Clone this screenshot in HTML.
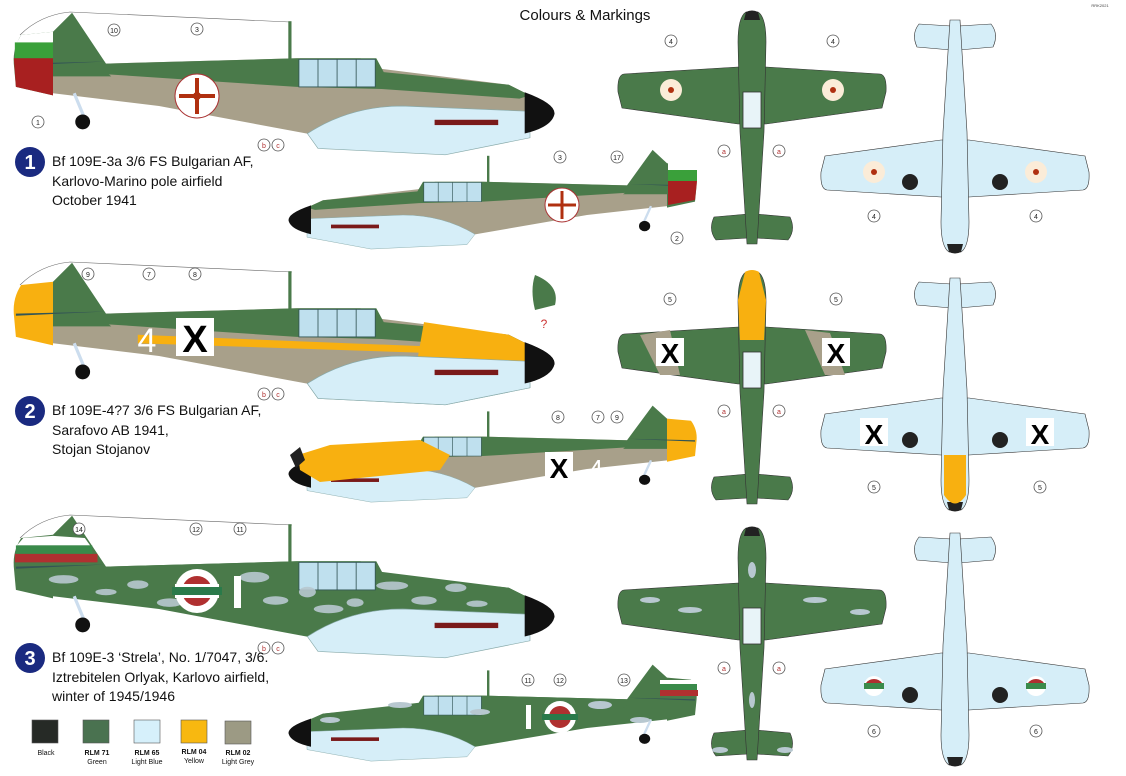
<!DOCTYPE html>
<html><head><meta charset="utf-8"><style>
html,body{margin:0;padding:0;background:#fff;}
svg{display:block;font-family:"Liberation Sans",sans-serif;}
.t{font-size:14px;fill:#111;}
.sw{font-size:7px;fill:#111;text-anchor:middle;}
.c{fill:#fff;stroke:#555;stroke-width:0.8;}
.cn{font-size:7px;text-anchor:middle;fill:#222;}
.cr{font-size:7px;text-anchor:middle;fill:#b03030;}
</style></head><body>
<svg width="1126" height="776" viewBox="0 0 1126 776" xmlns="http://www.w3.org/2000/svg">
<defs>
<g id="side">
 <path d="M100,60 L280,55 L340,55 L360,65 L480,80 L500,90 L505,110 L495,120 L420,128 L300,128 L150,100 L50,88 L50,30 Z" fill="var(--low)"/>
 <path d="M50,30 L68,12 L100,60 L280,55 L355,55 L362,68 L480,80 L500,90 L490,93 L360,84 L280,82 L100,70 L50,64 Z" fill="var(--top)"/>
 <path d="M50,30 L20,33 Q12,45 13,60 L15,82 L50,90 Z" fill="var(--rud)"/>
 <path d="M50,62 L100,68 L105,72 L50,72 Z" fill="var(--top)"/>
 <rect x="282" y="56" width="72" height="26" fill="#bfe0ee" stroke="#355" stroke-width="0.8"/>
 <line x1="300" y1="56" x2="300" y2="82" stroke="#355" stroke-width="0.8"/>
 <line x1="318" y1="56" x2="318" y2="82" stroke="#355" stroke-width="0.8"/>
 <line x1="336" y1="56" x2="336" y2="82" stroke="#355" stroke-width="0.8"/>
 <rect x="272" y="20" width="3" height="36" fill="#4a7a4a"/>
 <path d="M290,126 Q330,100 380,100 L500,105 L500,130 L420,146 L300,140 Z" fill="#d6eef8" stroke="#8aa" stroke-width="0.6"/>
 <path d="M495,87 Q525,98 523,108 Q520,120 495,126 Z" fill="#111"/>
 <rect x="410" y="113" width="60" height="5" fill="#7a1a1a"/>
 <line x1="70" y1="88" x2="80" y2="112" stroke="#cde" stroke-width="3"/>
 <circle cx="78" cy="115" r="7" fill="#111"/>
 <path d="M15,60 L100,58 L15,62Z" fill="#355"/>
</g>
<g id="topv">
 <path d="M-14,55 L-128,62 Q-135,63 -134,80 L-130,96 L-14,112 L14,112 L130,96 L134,80 Q135,63 128,62 L14,55 Z" fill="var(--wing)" stroke="#333" stroke-width="0.6"/>
 <path d="M-4,202 L-38,205 Q-44,218 -36,228 L-4,226 Z M4,202 L38,205 Q44,218 36,228 L4,226 Z" fill="var(--wing)" stroke="#333" stroke-width="0.6"/>
 <path d="M-6,0 Q-14,5 -14,30 L-12,120 L-5,232 L5,232 L12,120 L14,30 Q14,5 6,0 Z" fill="var(--fus)" stroke="#333" stroke-width="0.6"/>
 <path d="M-6,0 Q0,-3 6,0 L8,8 L-8,8Z" fill="#222"/>
</g>
</defs>

<text x="585" y="20" font-size="15" text-anchor="middle" fill="#111">Colours &amp; Markings</text>
<text x="1100" y="7" font-size="4" text-anchor="middle" fill="#444">RRK2021</text>

<!-- Row 1 -->
<path d="M20,35 Q40,15 70,12 L290,22" fill="none" stroke="#666" stroke-width="0.6"/>
<g transform="scale(1.06)" style="--top:#4a7a4a;--low:#a8a08a;--rud:#4a7a4a">
 <use href="#side"/>
 <path d="M13,45 L20,33 L50,30 L50,40 Z" fill="#fff"/><rect x="14" y="40" width="36" height="15" fill="#3aa03a"/><path d="M13,55 L50,55 L50,90 L15,82Z" fill="#a82020"/>
</g>
<circle cx="197" cy="96" r="22" fill="#fff" stroke="#a33" stroke-width="1"/><circle cx="197" cy="96" r="4" fill="#b03010"/>
<path d="M197,78 V114 M179,96 H215" stroke="#b03010" stroke-width="4"/>
<circle class="c" cx="197" cy="29" r="6"/><text class="cn" x="197" y="32">3</text>
<circle class="c" cx="114" cy="30" r="6"/><text class="cn" x="114" y="33">10</text>
<circle class="c" cx="38" cy="122" r="6"/><text class="cn" x="38" y="125">1</text>
<circle class="c" cx="264" cy="145" r="6" stroke="#b55"/><text class="cr" x="264" y="148">b</text>
<circle class="c" cx="278" cy="145" r="6" stroke="#b55"/><text class="cr" x="278" y="148">c</text>

<g transform="translate(707,141) scale(-0.8,0.74)" style="--top:#4a7a4a;--low:#a8a08a;--rud:#4a7a4a"><use href="#side"/></g>
<path d="M692,158 L697,166 L696,180 L668,180 L668,160Z" fill="#fff"/><rect x="668" y="170" width="29" height="11" fill="#3aa03a"/><path d="M668,181 L697,181 L695,200 L668,205Z" fill="#a82020"/>
<circle cx="562" cy="205" r="17" fill="#fff" stroke="#a33"/><path d="M562,191 V219 M548,205 H576" stroke="#b03010" stroke-width="3"/>
<circle class="c" cx="560" cy="157" r="6"/><text class="cn" x="560" y="160">3</text>
<circle class="c" cx="617" cy="157" r="6"/><text class="cn" x="617" y="160">17</text>
<circle class="c" cx="677" cy="238" r="6"/><text class="cn" x="677" y="241">2</text>

<circle cx="30" cy="162" r="15" fill="#1a2a80"/><text x="30" y="169" font-size="20" font-weight="bold" fill="#fff" text-anchor="middle">1</text>
<text class="t" x="52" y="166">Bf 109E-3a 3/6 FS Bulgarian AF,</text>
<text class="t" x="52" y="186">Karlovo-Marino pole airfield</text>
<text class="t" x="52" y="205">October 1941</text>

<g transform="translate(752,12)" style="--wing:#4a7a4a;--fus:#4a7a4a"><use href="#topv"/></g>
<rect x="743" y="92" width="18" height="36" fill="#e8f4f8" stroke="#333" stroke-width="0.8"/>
<circle cx="671" cy="90" r="11" fill="#fbecd8"/><circle cx="833" cy="90" r="11" fill="#fbecd8"/>
<circle cx="671" cy="90" r="3" fill="#b03010"/><circle cx="833" cy="90" r="3" fill="#b03010"/>
<circle class="c" cx="671" cy="41" r="6"/><text class="cn" x="671" y="44">4</text>
<circle class="c" cx="833" cy="41" r="6"/><text class="cn" x="833" y="44">4</text>
<circle class="c" cx="724" cy="151" r="6" stroke="#b55"/><text class="cr" x="724" y="154">a</text>
<circle class="c" cx="779" cy="151" r="6" stroke="#b55"/><text class="cr" x="779" y="154">a</text>

<g transform="translate(955,252) scale(1,-1)" style="--wing:#d6eef8;--fus:#d6eef8"><use href="#topv"/></g>
<circle cx="874" cy="172" r="11" fill="#fbecd8"/><circle cx="1036" cy="172" r="11" fill="#fbecd8"/>
<circle cx="874" cy="172" r="3" fill="#b03010"/><circle cx="1036" cy="172" r="3" fill="#b03010"/>
<circle cx="910" cy="182" r="8" fill="#222"/><circle cx="1000" cy="182" r="8" fill="#222"/>
<circle class="c" cx="874" cy="216" r="6"/><text class="cn" x="874" y="219">4</text>
<circle class="c" cx="1036" cy="216" r="6"/><text class="cn" x="1036" y="219">4</text>

<!-- Row 2 -->
<path d="M20,285 Q40,265 70,262 L292,272" fill="none" stroke="#666" stroke-width="0.6"/>
<g transform="translate(0,250) scale(1.06)" style="--top:#4a7a4a;--low:#a8a08a;--rud:#f8b010">
 <use href="#side"/>
 <path d="M400,68 L480,80 L500,90 L505,110 L495,120 L420,128 L390,125 Z" fill="#f8b010"/>
 <path d="M130,80 L430,92 L430,98 L130,88Z" fill="#f8b010"/>
 <path d="M290,126 Q330,100 380,100 L500,105 L500,130 L420,146 L300,140 Z" fill="#d6eef8" stroke="#8aa" stroke-width="0.6"/>
 <rect x="410" y="113" width="60" height="5" fill="#7a1a1a"/>
 <path d="M495,87 Q525,98 523,108 Q520,120 495,126 Z" fill="#111"/>
</g>
<rect x="176" y="318" width="38" height="38" fill="#fff"/><text x="195" y="352" font-size="38" font-weight="bold" text-anchor="middle" fill="#000">X</text>
<text x="147" y="352" font-size="34" text-anchor="middle" fill="#fff">4</text>
<path d="M535,275 Q560,285 555,305 L535,310 Q530,290 535,275Z" fill="#4a7a4a"/>
<text x="544" y="328" font-size="12" fill="#c33" text-anchor="middle">?</text>
<circle class="c" cx="88" cy="274" r="6"/><text class="cn" x="88" y="277">9</text>
<circle class="c" cx="149" cy="274" r="6"/><text class="cn" x="149" y="277">7</text>
<circle class="c" cx="195" cy="274" r="6"/><text class="cn" x="195" y="277">8</text>
<circle class="c" cx="264" cy="394" r="6" stroke="#b55"/><text class="cr" x="264" y="397">b</text>
<circle class="c" cx="278" cy="394" r="6" stroke="#b55"/><text class="cr" x="278" y="397">c</text>

<g transform="translate(707,397) scale(-0.8,0.72)" style="--top:#4a7a4a;--low:#a8a08a;--rud:#f8b010"><use href="#side"/></g>
<path d="M298,455 L330,445 L420,440 L450,455 L440,470 L320,482 L300,470 Z" fill="#f8b010"/>
<path d="M290,455 L300,447 L305,460 L296,468 Z" fill="#222"/>
<rect x="545" y="452" width="28" height="28" fill="#fff"/><text x="559" y="478" font-size="28" font-weight="bold" text-anchor="middle" fill="#000">X</text>
<text x="596" y="478" font-size="26" text-anchor="middle" fill="#fff">4</text>
<circle class="c" cx="558" cy="417" r="6"/><text class="cn" x="558" y="420">8</text>
<circle class="c" cx="598" cy="417" r="6"/><text class="cn" x="598" y="420">7</text>
<circle class="c" cx="617" cy="417" r="6"/><text class="cn" x="617" y="420">9</text>

<circle cx="30" cy="411" r="15" fill="#1a2a80"/><text x="30" y="418" font-size="20" font-weight="bold" fill="#fff" text-anchor="middle">2</text>
<text class="t" x="52" y="415">Bf 109E-4?7 3/6 FS Bulgarian AF,</text>
<text class="t" x="52" y="435">Sarafovo AB 1941,</text>
<text class="t" x="52" y="454">Stojan Stojanov</text>

<g transform="translate(752,272)" style="--wing:#4a7a4a;--fus:#4a7a4a"><use href="#topv"/></g>
<path d="M640,335 L660,375 L680,375 L670,330Z M805,330 L825,375 L845,375 L830,333Z" fill="#a8a08a"/>
<path d="M745,272 Q752,268 759,272 L766,300 L764,340 L740,340 L738,300Z" fill="#f8b010"/>
<rect x="743" y="352" width="18" height="36" fill="#e8f4f8" stroke="#333" stroke-width="0.8"/>
<rect x="656" y="338" width="28" height="28" fill="#fff"/><text x="670" y="363" font-size="28" font-weight="bold" text-anchor="middle">X</text>
<rect x="822" y="338" width="28" height="28" fill="#fff"/><text x="836" y="363" font-size="28" font-weight="bold" text-anchor="middle">X</text>
<circle class="c" cx="670" cy="299" r="6"/><text class="cn" x="670" y="302">5</text>
<circle class="c" cx="836" cy="299" r="6"/><text class="cn" x="836" y="302">5</text>
<circle class="c" cx="724" cy="411" r="6" stroke="#b55"/><text class="cr" x="724" y="414">a</text>
<circle class="c" cx="779" cy="411" r="6" stroke="#b55"/><text class="cr" x="779" y="414">a</text>

<g transform="translate(955,510) scale(1,-1)" style="--wing:#d6eef8;--fus:#d6eef8"><use href="#topv"/></g>
<path d="M944,455 L966,455 L966,495 Q955,512 944,495Z" fill="#f8b010"/>
<rect x="860" y="418" width="28" height="28" fill="#fff"/><text x="874" y="444" font-size="28" font-weight="bold" text-anchor="middle">X</text>
<rect x="1026" y="418" width="28" height="28" fill="#fff"/><text x="1040" y="444" font-size="28" font-weight="bold" text-anchor="middle">X</text>
<circle cx="910" cy="440" r="8" fill="#222"/><circle cx="1000" cy="440" r="8" fill="#222"/>
<circle class="c" cx="874" cy="487" r="6"/><text class="cn" x="874" y="490">5</text>
<circle class="c" cx="1040" cy="487" r="6"/><text class="cn" x="1040" y="490">5</text>

<!-- Row 3 -->
<path d="M20,538 Q40,518 70,515 L292,525" fill="none" stroke="#666" stroke-width="0.6"/>
<g transform="translate(0,503) scale(1.06)" style="--top:#4a7a4a;--low:#4a7a4a;--rud:#4a7a4a">
 <use href="#side"/>
 <path d="M16,40 L22,33 L50,31 L80,33 L85,40Z" fill="#fff"/><rect x="15" y="40" width="72" height="8" fill="#3a8a4a"/><rect x="14" y="48" width="78" height="8" fill="#b03030"/>
 <g fill="#b8c8d0" opacity="0.9">
 <ellipse cx="60" cy="72" rx="14" ry="4"/><ellipse cx="130" cy="77" rx="10" ry="4"/><ellipse cx="240" cy="70" rx="14" ry="5"/><ellipse cx="260" cy="92" rx="12" ry="4"/><ellipse cx="310" cy="100" rx="14" ry="4"/><ellipse cx="290" cy="84" rx="8" ry="5"/><ellipse cx="370" cy="78" rx="15" ry="4"/><ellipse cx="400" cy="92" rx="12" ry="4"/><ellipse cx="430" cy="80" rx="10" ry="4"/><ellipse cx="450" cy="95" rx="10" ry="3"/><ellipse cx="160" cy="94" rx="12" ry="4"/><ellipse cx="335" cy="94" rx="8" ry="4"/><ellipse cx="100" cy="84" rx="10" ry="3"/>
 </g>
</g>
<circle cx="197" cy="591" r="22" fill="#fff"/><circle cx="197" cy="591" r="15" fill="#b03030"/><rect x="172" y="587" width="50" height="8" fill="#2a7a4a"/><rect x="175" y="584" width="44" height="3" fill="#fff"/><rect x="175" y="595" width="44" height="3" fill="#fff"/>
<rect x="234" y="576" width="7" height="32" fill="#fff"/>
<circle class="c" cx="79" cy="529" r="6"/><text class="cn" x="79" y="532">14</text>
<circle class="c" cx="196" cy="529" r="6"/><text class="cn" x="196" y="532">12</text>
<circle class="c" cx="240" cy="529" r="6"/><text class="cn" x="240" y="532">11</text>
<circle class="c" cx="264" cy="648" r="6" stroke="#b55"/><text class="cr" x="264" y="651">b</text>
<circle class="c" cx="278" cy="648" r="6" stroke="#b55"/><text class="cr" x="278" y="651">c</text>

<g transform="translate(707,656) scale(-0.8,0.72)" style="--top:#4a7a4a;--low:#4a7a4a;--rud:#4a7a4a"><use href="#side"/></g>
<rect x="660" y="680" width="36" height="4" fill="#fff"/><rect x="660" y="684" width="37" height="6" fill="#3a8a4a"/><rect x="660" y="690" width="38" height="6" fill="#b03030"/>
<g fill="#b8c8d0"><ellipse cx="330" cy="720" rx="10" ry="3"/><ellipse cx="400" cy="705" rx="12" ry="3"/><ellipse cx="480" cy="712" rx="10" ry="3"/><ellipse cx="600" cy="705" rx="12" ry="4"/><ellipse cx="640" cy="720" rx="10" ry="3"/></g>
<circle cx="560" cy="717" r="16" fill="#fff"/><circle cx="560" cy="717" r="11" fill="#b03030"/><rect x="542" y="714" width="36" height="6" fill="#2a7a4a"/>
<rect x="526" y="705" width="5" height="24" fill="#fff"/>
<circle class="c" cx="528" cy="680" r="6"/><text class="cn" x="528" y="683">11</text>
<circle class="c" cx="560" cy="680" r="6"/><text class="cn" x="560" y="683">12</text>
<circle class="c" cx="624" cy="680" r="6"/><text class="cn" x="624" y="683">13</text>

<circle cx="30" cy="658" r="15" fill="#1a2a80"/><text x="30" y="665" font-size="20" font-weight="bold" fill="#fff" text-anchor="middle">3</text>
<text class="t" x="52" y="662">Bf 109E-3 ‘Strela’, No. 1/7047, 3/6.</text>
<text class="t" x="52" y="682">Iztrebitelen Orlyak, Karlovo airfield,</text>
<text class="t" x="52" y="701">winter of 1945/1946</text>

<g transform="translate(752,528)" style="--wing:#4a7a4a;--fus:#4a7a4a"><use href="#topv"/></g>
<g fill="#b8c8d0"><ellipse cx="650" cy="600" rx="10" ry="3"/><ellipse cx="690" cy="610" rx="12" ry="3"/><ellipse cx="815" cy="600" rx="12" ry="3"/><ellipse cx="860" cy="612" rx="10" ry="3"/><ellipse cx="752" cy="570" rx="4" ry="8"/><ellipse cx="752" cy="700" rx="3" ry="8"/><ellipse cx="720" cy="750" rx="8" ry="3"/><ellipse cx="785" cy="750" rx="8" ry="3"/></g>
<rect x="743" y="608" width="18" height="36" fill="#e8f4f8" stroke="#333" stroke-width="0.8"/>
<circle class="c" cx="724" cy="668" r="6" stroke="#b55"/><text class="cr" x="724" y="671">a</text>
<circle class="c" cx="779" cy="668" r="6" stroke="#b55"/><text class="cr" x="779" y="671">a</text>

<g transform="translate(955,765) scale(1,-1)" style="--wing:#d6eef8;--fus:#d6eef8"><use href="#topv"/></g>
<circle cx="874" cy="686" r="10" fill="#fff"/><rect x="864" y="683" width="20" height="6" fill="#3a8a4a"/><path d="M866,683 A10,10 0 0 1 882,683Z" fill="#b03030"/>
<circle cx="1036" cy="686" r="10" fill="#fff"/><rect x="1026" y="683" width="20" height="6" fill="#3a8a4a"/><path d="M1028,683 A10,10 0 0 1 1044,683Z" fill="#b03030"/>
<circle cx="910" cy="695" r="8" fill="#222"/><circle cx="1000" cy="695" r="8" fill="#222"/>
<circle class="c" cx="874" cy="731" r="6"/><text class="cn" x="874" y="734">6</text>
<circle class="c" cx="1036" cy="731" r="6"/><text class="cn" x="1036" y="734">6</text>

<!-- Swatches -->
<rect x="32" y="720" width="26" height="23" fill="#262a26" stroke="#555" stroke-width="0.6"/>
<rect x="83" y="720" width="26" height="23" fill="#4a7250" stroke="#555" stroke-width="0.6"/>
<rect x="134" y="720" width="26" height="23" fill="#d6f0fb" stroke="#555" stroke-width="0.6"/>
<rect x="181" y="720" width="26" height="23" fill="#f8b810" stroke="#555" stroke-width="0.6"/>
<rect x="225" y="721" width="26" height="23" fill="#9c9a84" stroke="#555" stroke-width="0.6"/>
<text class="sw" x="46" y="755">Black</text>
<text class="sw" x="97" y="755" font-weight="bold">RLM 71</text><text class="sw" x="97" y="764">Green</text>
<text class="sw" x="147" y="755" font-weight="bold">RLM 65</text><text class="sw" x="147" y="764">Light Blue</text>
<text class="sw" x="194" y="754" font-weight="bold">RLM 04</text><text class="sw" x="194" y="763">Yellow</text>
<text class="sw" x="238" y="755" font-weight="bold">RLM 02</text><text class="sw" x="238" y="764">Light Grey</text>
</svg>
</body></html>
